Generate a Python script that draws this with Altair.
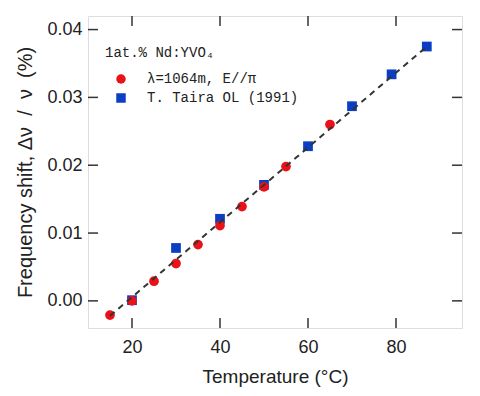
import altair as alt
import pandas as pd

# --- data ---
series_names = ["λ=1064m, E//π", "T. Taira OL (1991)"]
red_T = [15, 20, 25, 30, 35, 40, 45, 50, 55, 65]
red_shift = [-0.0021, 0.0, 0.0029, 0.0055, 0.0083, 0.0111, 0.0139, 0.0168, 0.0198, 0.0260]
blue_T = [20, 30, 40, 50, 60, 70, 79, 87]
blue_shift = [0.0001, 0.0078, 0.0121, 0.0171, 0.0228, 0.0287, 0.0334, 0.0375]
fit_T = [15, 87]
fit_shift = [-0.0022, 0.0375]
x_ticks = [20, 40, 60, 80]
y_ticks = [0.00, 0.01, 0.02, 0.03, 0.04]

RED = "#ea1218"
BLUE = "#0b3ec4"
INK = "#333333"
W, H = 374, 312
NB = "\u00a0"

pts = pd.DataFrame(
    {"T": red_T + blue_T,
     "shift": red_shift + blue_shift,
     "series": [series_names[0]] * len(red_T) + [series_names[1]] * len(blue_T)}
)
fit = pd.DataFrame({"T": fit_T, "shift": fit_shift})
xt = pd.DataFrame({"T": x_ticks})
yt = pd.DataFrame({"shift": y_ticks})

xscale = alt.Scale(domain=[10, 95], nice=False, zero=False)
yscale = alt.Scale(domain=[-0.004, 0.042], nice=False, zero=False)

xaxis = alt.Axis(
    values=x_ticks, format="d", title="Temperature (°C)", grid=False, domain=False,
    ticks=False, tickSize=0, labelPadding=10, labelFont="Liberation Sans",
    labelFontSize=18, labelColor="#222", titleFont="Liberation Sans",
    titleFontSize=19, titleFontWeight="normal", titleColor="#222",
    titleBaseline="alphabetic", titleY=54,
)
yaxis = alt.Axis(
    values=y_ticks, format=".2f",
    title="Frequency shift, Δν" + NB + " / " + NB + "ν" + NB + " (%)",
    grid=False, domain=False, ticks=False, tickSize=0, labelPadding=6,
    labelFont="Liberation Sans", labelFontSize=18, labelColor="#222",
    titleFont="Liberation Sans", titleFontSize=20, titleFontWeight="normal",
    titleColor="#222", titleBaseline="alphabetic", titleX=-57,
)

leg = alt.Legend(
    orient="none", legendX=17, legendY=30, title="1at.% Nd:YVO₄",
    titleFont="Liberation Mono", titleFontSize=14, titleFontWeight="normal",
    titleColor="#222", labelFont="Liberation Mono", labelFontSize=14,
    labelColor="#222", symbolSize=90, symbolOffset=9, labelOffset=19,
    titlePadding=12, rowPadding=5, padding=0, symbolStrokeWidth=0,
)

points = alt.Chart(pts).mark_point(filled=True, opacity=1, size=95).encode(
    x=alt.X("T:Q", scale=xscale, axis=xaxis),
    y=alt.Y("shift:Q", scale=yscale, axis=yaxis),
    color=alt.Color("series:N", scale=alt.Scale(domain=series_names, range=[RED, BLUE]), legend=leg),
    shape=alt.Shape("series:N", scale=alt.Scale(domain=series_names, range=["circle", "square"]), legend=leg),
    order=alt.Order("series:N"),
)

line = alt.Chart(fit).mark_line(color=INK, strokeWidth=2, strokeDash=[6, 5]).encode(
    x=alt.X("T:Q", scale=xscale), y=alt.Y("shift:Q", scale=yscale)
)

tk = dict(color=INK, strokeWidth=1.5)
bottom = alt.Chart(xt).mark_rule(**tk).encode(x=alt.X("T:Q", scale=xscale), y=alt.value(H), y2=alt.value(H - 10))
top = alt.Chart(xt).mark_rule(**tk).encode(x=alt.X("T:Q", scale=xscale), y=alt.value(0), y2=alt.value(10))
left = alt.Chart(yt).mark_rule(**tk).encode(y=alt.Y("shift:Q", scale=yscale), x=alt.value(0), x2=alt.value(10))
right = alt.Chart(yt).mark_rule(**tk).encode(y=alt.Y("shift:Q", scale=yscale), x=alt.value(W), x2=alt.value(W - 10))

chart = alt.layer(points, line, bottom, top, left, right).properties(
    width=W, height=H,
    autosize=alt.AutoSizeParams(type="none"),
    padding={"left": 80, "top": 8, "right": 10, "bottom": 60},
).configure_view(stroke=INK, strokeWidth=1.6).configure(background="white")

chart.save("out.html", embed_options={"renderer": "svg", "actions": False})
